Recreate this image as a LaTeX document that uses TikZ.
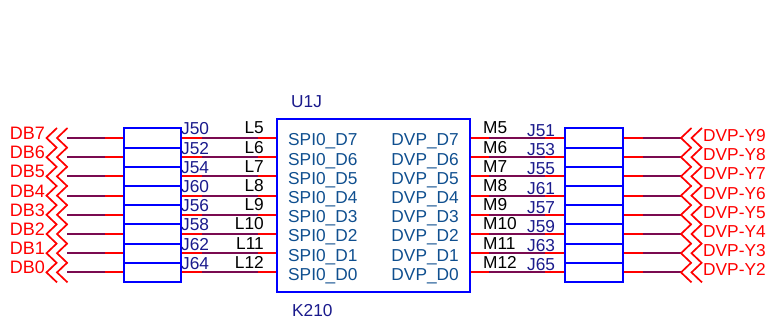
\documentclass[tikz,border=0pt]{standalone}
\usepackage{fontspec}
\setmainfont{Liberation Sans}
\usepackage{xcolor}
\definecolor{netpurple}{HTML}{7A0A50}
\definecolor{refblue}{HTML}{1A1A8C}
\definecolor{pinblue}{HTML}{0F4F8F}

\begin{document}
\begin{tikzpicture}[x=1pt,y=-1pt,
    partbox/.style={draw=blue,line width=2pt,fill=white,rectangle,minimum width=57.5pt,minimum height=19.2pt,inner sep=0pt},
    chipbox/.style={draw=blue,line width=2pt,rectangle,minimum width=193pt,minimum height=173pt,inner sep=0pt},
    pinwire/.style={draw=red,line width=2pt},
    netwire/.style={draw=netpurple,line width=2pt},
    offpage/.style={draw=red,line width=1.7pt},
    txt/.style={inner sep=0pt,font=\fontsize{17.3}{17.3}\selectfont,text height=12pt,text depth=0pt},
    sig/.style={txt,text=red},
    refdes/.style={txt,text=refblue},
    pinnum/.style={txt,text=black},
    pinname/.style={txt,text=pinblue}]
    \useasboundingbox (0,0) rectangle (780,320);
    \node [chipbox] (u1j) at (373.5,205.5) {};
    \node [refdes,anchor=west] (u1j_ref) at (291,102) {U1J};
    \node [refdes,anchor=west] (u1j_val) at (292,311) {K210};
    \foreach \i/\n/\jl/\ll/\jr/\mr/\yy in {0/7/J50/L5/J51/M5/Y9,1/6/J52/L6/J53/M6/Y8,2/5/J54/L7/J55/M7/Y7,3/4/J60/L8/J61/M8/Y6,
        4/3/J56/L9/J57/M9/Y5,5/2/J58/L10/J59/M10/Y4,6/1/J62/L11/J63/M11/Y3,7/0/J64/L12/J65/M12/Y2}{
      \pgfmathsetmacro{\y}{138+19.2*\i}
      % left side
      \node [partbox] (lbox_\i) at (152.3,\y) {};
      \coordinate (lsig_\i) at (67,\y);
      \coordinate (lpin_\i) at (u1j.west |- lbox_\i.east);
      \path (lbox_\i.west) ++ (-18,0) coordinate (lin_\i);
      \path (lbox_\i.east) ++ (20,0) coordinate (lfrom_\i);
      \path (lpin_\i) ++ (-18,0) coordinate (lto_\i);
      \draw [pinwire] (lin_\i) -- (lbox_\i.west);
      \draw [netwire] (lsig_\i) -- (lin_\i);
      \draw [pinwire] (lbox_\i.east) -- (lpin_\i);
      \draw [netwire] (lfrom_\i) -- (lto_\i);
      \draw [offpage] (lsig_\i) ++ (0.5,-10) -- ++ (-10.5,10) -- ++ (10.5,10);
      \draw [offpage] (lsig_\i) ++ (-10,-10) -- ++ (-10.5,10) -- ++ (10.5,10);
      \node [sig,anchor=east] (ldb_\i) at (45,\y-4.5) {\fontsize{18}{18}\selectfont DB\n};
      \node [refdes,anchor=west] (ljref_\i) at (181,\y-9) {\jl};
      \node [pinnum,anchor=east] (llnum_\i) at (264,\y-10) {\ll};
      \node [pinname,anchor=west] (lname_\i) at (288,\y+2) {SPI0\_D\n};
      % right side
      \node [partbox] (rbox_\i) at (594,\y) {};
      \coordinate (rsig_\i) at (681,\y);
      \coordinate (rpin_\i) at (u1j.east |- rbox_\i.west);
      \path (rpin_\i) ++ (18,0) coordinate (rfrom_\i);
      \path (rbox_\i.west) ++ (-19,0) coordinate (rto_\i);
      \path (rbox_\i.east) ++ (19,0) coordinate (rout_\i);
      \draw [pinwire] (rpin_\i) -- (rbox_\i.west);
      \draw [netwire] (rfrom_\i) -- (rto_\i);
      \draw [pinwire] (rbox_\i.east) -- (rout_\i);
      \draw [netwire] (rout_\i) -- (rsig_\i);
      \draw [offpage] (rsig_\i) ++ (0,-10) ++ (10.5,0) -- ++ (-10.5,10) -- ++ (10.5,10);
      \draw [offpage] (rsig_\i) ++ (0,-10) ++ (21,0) -- ++ (-10.5,10) -- ++ (10.5,10);
      \node [sig,anchor=west] (rdvp_\i) at (703,\y-2.5) {DVP-\yy};
      \node [refdes,anchor=west] (rjref_\i) at (527,\y-7.5) {\jr};
      \node [pinnum,anchor=west] (rmnum_\i) at (483,\y-10) {\mr};
      \node [pinname,anchor=east] (rname_\i) at (459,\y+2) {DVP\_D\n};
    }
\end{tikzpicture}
\end{document}
